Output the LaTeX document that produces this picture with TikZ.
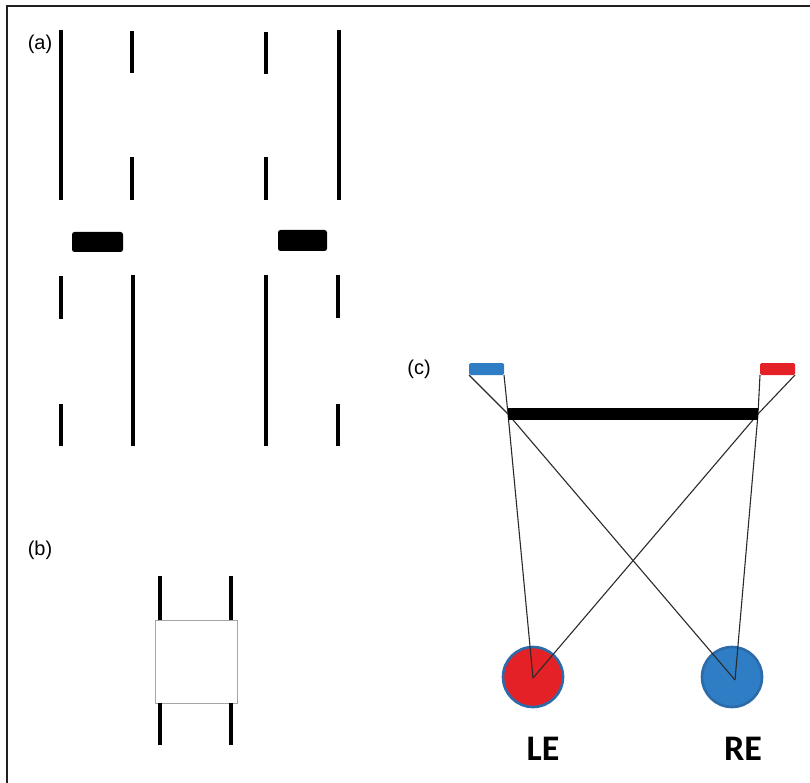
\documentclass[tikz,border=0pt]{standalone}
\usepackage{fontspec}
\setmainfont{Liberation Sans}
\newfontfamily\eyefont{Carlito}
\definecolor{framegray}{HTML}{231F20}
\definecolor{eyered}{HTML}{E42127}
\definecolor{eyeblue}{HTML}{2F7EC5}
\definecolor{rimblue}{HTML}{2C6BAA}
\definecolor{raygray}{HTML}{2A2A2A}
\tikzset{
  panel/.style={font=\fontsize{20}{22}\selectfont, inner sep=0pt},
  bar/.style={line width=4.9pt, line cap=butt, black},
  block/.style={fill=black, rounded corners=2.5pt},
  ray/.style={line width=1.1pt, raygray},
  eye/.style={circle, minimum size=60pt, inner sep=0pt, line width=2.6pt},
  eyelabel/.style={font=\eyefont\bfseries\fontsize{36}{38}\selectfont, inner sep=0pt},
}
\begin{document}
\begin{tikzpicture}[x=1pt, y=-1pt]
\useasboundingbox (0,0) rectangle (810,783);
% outer frame (left and top edges)
\draw[framegray, line width=2pt] (7,783) -- (7,6) -- (810,6);

% ---------- panel (a) ----------
\node[panel] (la) at (40,44) {(a)};
% left pair
\draw[bar] (61,30) -- (61,200);
\draw[bar] (132,31) -- (132,73);
\draw[bar] (132,157) -- (132,200);
\fill[block] (72,232) rectangle (123,252);
\draw[bar] (61,276) -- (61,319);
\draw[bar] (133,275) -- (133,446);
\draw[bar] (61,404) -- (61,446);
% right pair
\draw[bar] (266,32) -- (266,74);
\draw[bar] (266,157) -- (266,200);
\draw[bar] (339,30) -- (339,200);
\fill[block] (278,230) rectangle (327,251);
\draw[bar] (266,275) -- (266,446);
\draw[bar] (338,275) -- (338,318);
\draw[bar] (338,404) -- (338,446);

% ---------- panel (b) ----------
\node[panel] (lb) at (40,550) {(b)};
\draw[bar] (160,576) -- (160,620);
\draw[bar] (231,576) -- (231,620);
\draw[gray!70, line width=0.9pt] (155,620) rectangle (237,703);
\draw[bar] (160,703) -- (160,745);
\draw[bar] (231,703) -- (231,745);

% ---------- panel (c) ----------
\node[panel] (lc) at (419,369) {(c)};
\fill[eyeblue, rounded corners=1.5pt] (469,363) rectangle (504,375);
\fill[eyered, rounded corners=1.5pt] (760,363) rectangle (795,375);
\coordinate (bl) at (469,375);
\coordinate (br) at (504,375);
\coordinate (rl) at (760,375);
\coordinate (rr) at (795,375);
\coordinate (pl) at (508,414);
\coordinate (pr) at (758,414);

\node[eye, fill=eyered, draw=rimblue] (LE) at (533,677) {};
\node[eye, fill=eyeblue, draw=rimblue] (RE) at (732,677) {};
\coordinate (lec) at (533,678);
\coordinate (rec) at (735,680);

\draw[ray] (br) -- (pl) -- (lec);
\draw[ray] (bl) -- (pl) -- (rec);
\draw[ray] (rr) -- (pr) -- (lec);
\draw[ray] (rl) -- (pr) -- (rec);

\draw[line width=12pt, black] (pl) -- (pr);

\node[eyelabel] (tLE) at (543,749) {LE};
\node[eyelabel] (tRE) at (743,749) {RE};
\end{tikzpicture}
\end{document}
